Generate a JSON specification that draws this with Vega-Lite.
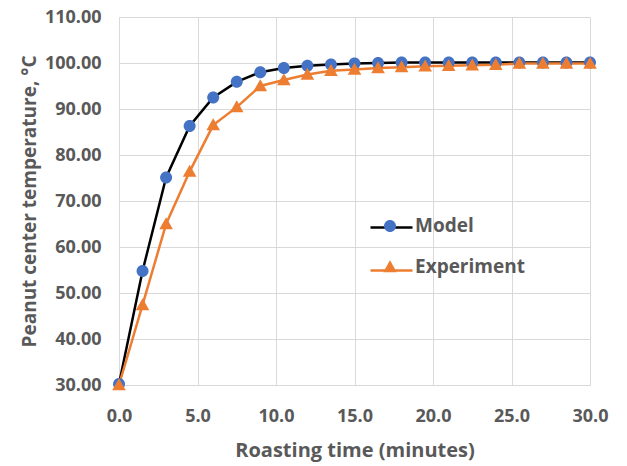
{
  "$schema": "https://vega.github.io/schema/vega-lite/v6.json",
  "width": 471,
  "height": 368,
  "autosize": "none",
  "padding": {"left": 119, "top": 17, "right": 37, "bottom": 81},
  "background": "#ffffff",
  "config": {
    "font": "Open Sans",
    "view": {"stroke": null},
    "axis": {
      "labelFont": "Open Sans",
      "labelFontWeight": "bold",
      "labelFontSize": 18,
      "labelColor": "#595959",
      "titleFont": "Open Sans",
      "titleFontWeight": "bold",
      "titleFontSize": 20,
      "titleColor": "#595959",
      "gridColor": "#d9d9d9",
      "gridWidth": 1,
      "gridOpacity": 1,
      "domain": false,
      "ticks": false,
      "labelFlush": false
    },
    "legend": {
      "padding": 0,
      "labelFont": "Open Sans",
      "labelFontWeight": "bold",
      "labelFontSize": 19,
      "labelColor": "#595959"
    }
  },
  "data": {
    "values": [
      {"t": 0, "series": "Model", "temp": 30.2},
      {"t": 1.5, "series": "Model", "temp": 54.8},
      {"t": 3, "series": "Model", "temp": 75.1},
      {"t": 4.5, "series": "Model", "temp": 86.3},
      {"t": 6, "series": "Model", "temp": 92.5},
      {"t": 7.5, "series": "Model", "temp": 95.9},
      {"t": 9, "series": "Model", "temp": 98.0},
      {"t": 10.5, "series": "Model", "temp": 98.9},
      {"t": 12, "series": "Model", "temp": 99.4},
      {"t": 13.5, "series": "Model", "temp": 99.7},
      {"t": 15, "series": "Model", "temp": 99.9},
      {"t": 16.5, "series": "Model", "temp": 100.0},
      {"t": 18, "series": "Model", "temp": 100.1},
      {"t": 19.5, "series": "Model", "temp": 100.1},
      {"t": 21, "series": "Model", "temp": 100.1},
      {"t": 22.5, "series": "Model", "temp": 100.1},
      {"t": 24, "series": "Model", "temp": 100.1},
      {"t": 25.5, "series": "Model", "temp": 100.1},
      {"t": 27, "series": "Model", "temp": 100.1},
      {"t": 28.5, "series": "Model", "temp": 100.1},
      {"t": 30, "series": "Model", "temp": 100.1},
      {"t": 0, "series": "Experiment", "temp": 30.0},
      {"t": 1.5, "series": "Experiment", "temp": 47.4},
      {"t": 3, "series": "Experiment", "temp": 65.0},
      {"t": 4.5, "series": "Experiment", "temp": 76.4},
      {"t": 6, "series": "Experiment", "temp": 86.5},
      {"t": 7.5, "series": "Experiment", "temp": 90.4},
      {"t": 9, "series": "Experiment", "temp": 95.0},
      {"t": 10.5, "series": "Experiment", "temp": 96.3},
      {"t": 12, "series": "Experiment", "temp": 97.5},
      {"t": 13.5, "series": "Experiment", "temp": 98.3},
      {"t": 15, "series": "Experiment", "temp": 98.6},
      {"t": 16.5, "series": "Experiment", "temp": 98.9},
      {"t": 18, "series": "Experiment", "temp": 99.1},
      {"t": 19.5, "series": "Experiment", "temp": 99.3},
      {"t": 21, "series": "Experiment", "temp": 99.4},
      {"t": 22.5, "series": "Experiment", "temp": 99.5},
      {"t": 24, "series": "Experiment", "temp": 99.6},
      {"t": 25.5, "series": "Experiment", "temp": 99.9},
      {"t": 27, "series": "Experiment", "temp": 99.9},
      {"t": 28.5, "series": "Experiment", "temp": 99.9},
      {"t": 30, "series": "Experiment", "temp": 99.9}
    ]
  },
  "encoding": {
    "x": {
      "field": "t",
      "type": "quantitative",
      "scale": {"domain": [0, 30], "nice": false, "zero": false},
      "axis": {
        "title": "Roasting time (minutes)",
        "values": [0, 5, 10, 15, 20, 25, 30],
        "format": ".1f",
        "labelPadding": 22,
        "titlePadding": 15
      }
    },
    "y": {
      "field": "temp",
      "type": "quantitative",
      "scale": {"domain": [30, 110], "nice": false, "zero": false},
      "axis": {
        "title": "Peanut center temperature, °C",
        "titleFontSize": 19,
        "values": [30, 40, 50, 60, 70, 80, 90, 100, 110],
        "format": ".2f",
        "labelPadding": 18,
        "titlePadding": 5
      }
    }
  },
  "layer": [
    {
      "mark": {"type": "line", "strokeWidth": 2.5},
      "encoding": {
        "stroke": {
          "field": "series",
          "type": "nominal",
          "scale": {"domain": ["Model", "Experiment"], "range": ["#000000", "#ED7D31"]},
          "legend": {
            "orient": "none",
            "legendX": 261,
            "legendY": 199,
            "title": null,
            "symbolType": "M-2.1,0L2.1,0",
            "symbolSize": 400,
            "symbolStrokeWidth": 2.5,
            "labelOffset": 15,
            "labelExpr": "''",
            "rowPadding": 21
          }
        }
      }
    },
    {
      "mark": {"type": "point", "filled": true, "opacity": 1, "size": 400},
      "encoding": {
        "fill": {
          "field": "series",
          "type": "nominal",
          "sort": ["Model", "Experiment"],
          "scale": {"range": ["#4472C4", "#ED7D31"]},
          "legend": null
        },
        "shape": {
          "field": "series",
          "type": "nominal",
          "sort": ["Model", "Experiment"],
          "scale": {"range": ["M-0.6,0A0.6,0.6,0,1,1,0.6,0A0.6,0.6,0,1,1,-0.6,0Z", "M0,-0.68L0.68,0.52L-0.68,0.52Z"]},
          "legend": {
            "orient": "none",
            "legendX": 261,
            "legendY": 199,
            "title": null,
            "symbolSize": 400,
            "symbolStrokeWidth": 0,
            "symbolStrokeColor": "transparent",
            "symbolFillColor": {"expr": "datum.value === 'Model' ? '#4472C4' : '#ED7D31'"},
            "labelOffset": 15,
            "rowPadding": 21,
            "symbolOpacity": 1
          }
        }
      }
    }
  ]
}
